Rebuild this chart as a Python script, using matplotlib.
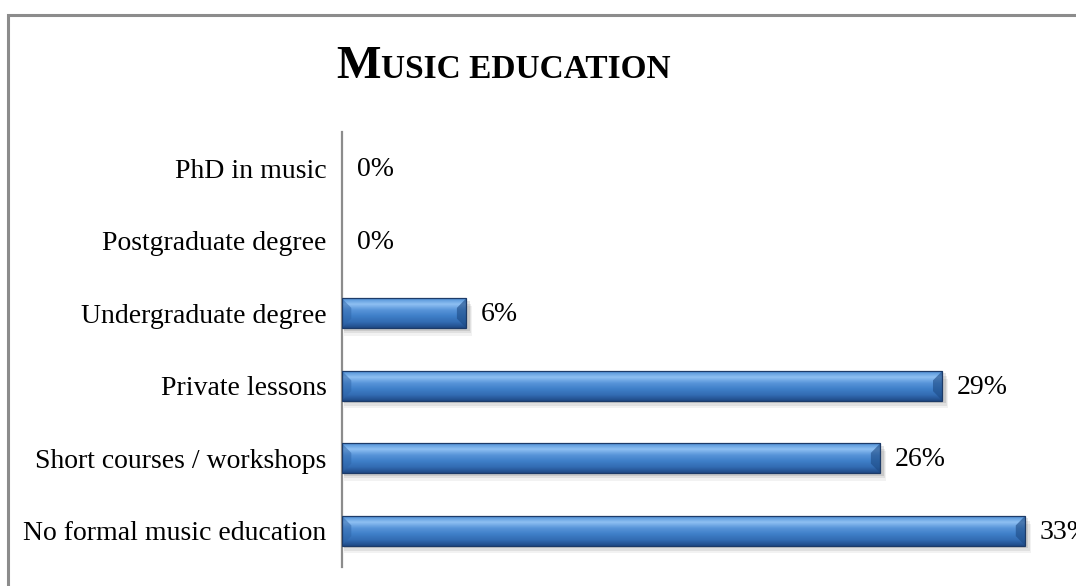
import matplotlib
matplotlib.use("Agg")
import matplotlib.pyplot as plt
from matplotlib.patches import Rectangle, Polygon
from matplotlib.colors import LinearSegmentedColormap
import numpy as np

plt.rcParams['font.family'] = ['Liberation Serif', 'DejaVu Serif']

categories = ["No formal music education", "Short courses / workshops",
              "Private lessons", "Undergraduate degree",
              "Postgraduate degree", "PhD in music"]
values = [33, 26, 29, 6, 0, 0]

fig = plt.figure(figsize=(10.76, 5.86), dpi=100)

# grey frame round the chart area (runs off the right and bottom edges)
fig.patches.append(Rectangle((8 / 1076, -0.1), 1.2, 1 - 15 / 586 + 0.1,
                             transform=fig.transFigure, fill=False,
                             edgecolor="#8c8c8c", linewidth=2.2))

ax = fig.add_axes([342 / 1076, 19 / 586, 724.5 / 1076, 435 / 586])
ax.set_xlim(0, 35)
ax.set_ylim(-0.5, len(categories) - 0.5)

ypos = np.arange(len(categories))
bh = 0.41

grad = LinearSegmentedColormap.from_list(
    "bevel", ["#1f4a86", "#336cb3", "#3f7fc8", "#5794d9", "#8ec0f2", "#4f8fd6"])
g = np.linspace(0, 1, 100).reshape(-1, 1)

bars = ax.barh(ypos, values, height=bh, color="#4a86cc",
               edgecolor="none", linewidth=0, zorder=3)

for rect, v in zip(bars, values):
    if v <= 0:
        continue
    x0, y0 = rect.get_x(), rect.get_y()
    w, h = rect.get_width(), rect.get_height()
    # soft drop shadow
    for k, a in enumerate([0.10, 0.07, 0.05]):
        d = 0.06 * (k + 1)
        ax.add_patch(Rectangle((x0 + 0.1, y0 - d * 0.6), w + d, h,
                               facecolor="#000000", alpha=a, linewidth=0,
                               zorder=2))
    # vertical gradient inside the bar
    im = ax.imshow(g, cmap=grad, aspect="auto", origin="lower",
                   extent=(x0, x0 + w, y0, y0 + h), zorder=3.5)
    im.set_clip_path(rect)
    # bevelled ends
    dx, dy = 0.45, h * 0.32
    ax.add_patch(Polygon([(x0, y0 + h), (x0 + dx, y0 + h - dy),
                          (x0 + dx, y0 + dy), (x0, y0)],
                         closed=True, facecolor="#2f65a8", alpha=0.5,
                         linewidth=0, zorder=3.6))
    ax.add_patch(Polygon([(x0 + w, y0 + h), (x0 + w - dx, y0 + h - dy),
                          (x0 + w - dx, y0 + dy), (x0 + w, y0)],
                         closed=True, facecolor="#1d4a84", alpha=0.6,
                         linewidth=0, zorder=3.6))
    ax.add_patch(Rectangle((x0, y0), w, h, fill=False,
                           edgecolor="#1d3b68", linewidth=0.9, zorder=4))

for y, v in zip(ypos, values):
    ax.annotate(f"{v}%", (v, y), xytext=(10.5, -1), textcoords="offset points",
                ha="left", va="center", fontsize=20, color="black",
                annotation_clip=False, zorder=5)

ax.set_yticks(ypos)
ax.set_yticklabels(categories, fontsize=20)
ax.tick_params(axis="y", length=0, pad=11)
ax.set_xticks([])
for s in ["top", "right", "bottom"]:
    ax.spines[s].set_visible(False)
ax.spines["left"].set_color("#8c8c8c")
ax.spines["left"].set_linewidth(1.6)
ax.set_facecolor("none")

# small-caps title
fig.text(381 / 1076, 1 - 78 / 586, "M", fontsize=34, fontweight="bold",
         ha="right", va="baseline")
fig.text(381 / 1076, 1 - 78 / 586, "USIC EDUCATION", fontsize=24,
         fontweight="bold", ha="left", va="baseline")

fig.savefig("out.png", dpi=100)
